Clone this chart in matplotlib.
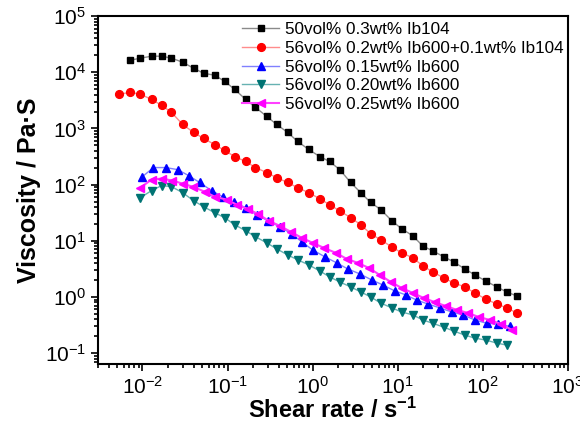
import matplotlib
matplotlib.use("Agg")
import matplotlib.pyplot as plt

plt.rcParams['font.family'] = ['Liberation Sans', 'DejaVu Sans']
plt.rcParams['mathtext.fontset'] = 'custom'
plt.rcParams['mathtext.rm'] = 'Liberation Sans'
plt.rcParams['mathtext.it'] = 'Liberation Sans:italic'
plt.rcParams['mathtext.bf'] = 'Liberation Sans:bold'

# shear rate grid (s^-1)
rate_a = [0.00722, 0.00947, 0.01277, 0.01675, 0.0219, 0.0296, 0.0398, 0.0522, 0.0704, 0.0923,
          0.121, 0.163, 0.213, 0.288, 0.377, 0.508, 0.667, 0.898, 1.21, 1.58,
          2.08, 2.80, 3.67, 4.81, 6.31, 8.50, 11.1, 15.0, 19.7, 25.8,
          34.8, 45.6, 61.4, 80.5, 108, 146, 191, 251]
rate_red = [0.0053] + rate_a
rate_teal = rate_a[1:37]
rate_blue = [0.0100, 0.01346, 0.01866, 0.0258, 0.0348, 0.0469, 0.0649, 0.0873, 0.1178, 0.163,
             0.219, 0.296, 0.409, 0.566, 0.743, 1.0, 1.384, 1.915, 2.58, 3.57,
             4.94, 6.66, 9.22, 12.4, 16.7, 22.6, 31.2, 43.2, 58.2, 80.5,
             111, 150, 208]
rate_mag = [0.00947, 0.01277, 0.01675, 0.0225, 0.0296, 0.0388, 0.0536, 0.0704, 0.0973, 0.128,
            0.172, 0.225, 0.303, 0.409, 0.551, 0.743, 1.0, 1.35, 1.87, 2.51,
            3.38, 4.56, 6.14, 8.28, 11.1, 15.0, 20.2, 27.2, 36.7, 49.4,
            66.6, 89.7, 121, 163, 219]

# viscosity (Pa.s)
visc_black = [16400, 17800, 19300, 19300, 17800, 15100, 11800, 9600, 8840, 6900,
              4970, 3290, 2370, 1640, 1180, 849, 586, 422, 316, 258,
              185, 109, 72, 48, 36, 22.8, 16.4, 12.3, 8.1, 6.6,
              5.2, 4.2, 3.16, 2.47, 1.93, 1.51, 1.23, 1.04]
visc_red = [4050, 4390, 4050, 3290, 2580, 1930, 1180, 849, 663, 517,
            405, 316, 258, 201, 164, 133, 109, 88, 72, 56,
            44, 34, 25.8, 19.3, 13.3, 10.4, 7.8, 6.1, 5.0, 3.58,
            2.79, 2.18, 1.78, 1.51, 1.18, 0.92, 0.75, 0.64, 0.52]
visc_blue = [139, 201, 201, 185, 145, 109, 78, 61, 48, 39,
             29, 22.8, 17.8, 13.3, 9.6, 6.9, 5.2, 4.05, 3.16, 2.58,
             2.01, 1.64, 1.28, 1.09, 0.88, 0.75, 0.64, 0.54, 0.48, 0.39,
             0.34, 0.33, 0.30]
visc_teal = [58.6, 78.1, 95.9, 92.1, 71.9, 51.8, 40.5, 31.6, 25.8, 19.3,
             15.1, 11.8, 9.2, 7.2, 5.6, 4.58, 3.73, 2.91, 2.28, 1.85,
             1.51, 1.23, 1.0, 0.78, 0.64, 0.54, 0.48, 0.39, 0.34, 0.29,
             0.247, 0.21, 0.185, 0.171, 0.151, 0.139]
visc_mag = [88.3, 123, 128, 118, 104, 92, 75, 61, 54, 44,
            37, 30.3, 22.8, 18.5, 14.5, 11.3, 9.2, 7.5, 6.1, 4.77,
            4.05, 3.30, 2.47, 1.85, 1.45, 1.18, 0.96, 0.81, 0.69, 0.59,
            0.52, 0.44, 0.39, 0.33, 0.26]

labels = ['50vol% 0.3wt% Ib104',
          '56vol% 0.2wt% Ib600+0.1wt% Ib104',
          '56vol% 0.15wt% Ib600',
          '56vol% 0.20wt% Ib600',
          '56vol% 0.25wt% Ib600']

fig = plt.figure(figsize=(5.8, 4.34), dpi=100)
ax = fig.add_axes([0.169, 0.161, 0.810, 0.802])

ax.plot(rate_a, visc_black, color='#8a8a8a', lw=1, marker='s', ms=4.7,
        mfc='black', mec='black', label=labels[0])
ax.plot(rate_red, visc_red, color='#ff8c8c', lw=1, marker='o', ms=5.6,
        mfc='red', mec='red', label=labels[1])
ax.plot(rate_blue, visc_blue, color='#8080ff', lw=1, marker='^', ms=6,
        mfc='blue', mec='blue', label=labels[2])
ax.plot(rate_teal, visc_teal, color='#66b2b2', lw=1, marker='v', ms=6,
        mfc='#007373', mec='#007373', label=labels[3])
ax.plot(rate_mag, visc_mag, color='#ff40ff', lw=1.5, marker='<', ms=6,
        mfc='#ff00ff', mec='#ff00ff', label=labels[4])

ax.set_xscale('log')
ax.set_yscale('log')
ax.set_xlim(0.003, 1000)
ax.set_ylim(0.0637, 1e5)

ax.tick_params(which='both', direction='out', top=False, right=False,
               labelsize=15, width=1.2)
ax.tick_params(which='major', length=5)
ax.tick_params(which='minor', length=3)
for s in ax.spines.values():
    s.set_linewidth(1.5)

ax.set_xlabel('Shear rate / s$^{\\mathbf{-1}}$', fontsize=17, fontweight='bold', labelpad=0)
ax.set_ylabel('Viscosity / Pa·S', fontsize=18, fontweight='bold', labelpad=3)

ax.legend(loc='upper right', bbox_to_anchor=(1.012, 1.012), frameon=False,
          fontsize=12.3, handlelength=2.2, handletextpad=0.3, labelspacing=0.22,
          borderaxespad=0.2)

fig.savefig('out.png', dpi=100)
